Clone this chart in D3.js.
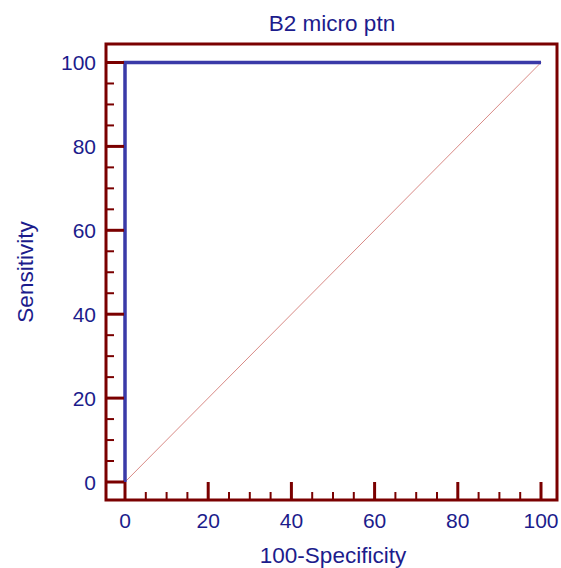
<!DOCTYPE html>
<html><head><meta charset="utf-8">
<script src="https://cdn.jsdelivr.net/npm/d3@7"></script>
<style>body{margin:0;background:#fff}svg{display:block}text{font-family:"Liberation Sans",Arial,sans-serif}</style>
</head><body>
<script>
const rocX = [0, 0, 100];
const rocY = [0, 100, 100];
const diagX = [0, 100];
const diagY = [0, 100];
const xTicks = [0, 20, 40, 60, 80, 100];
const yTicks = [0, 20, 40, 60, 80, 100];
const minorTicks = d3.range(0, 101, 5);
const title = "B2 micro ptn";
const xLabel = "100-Specificity";
const yLabel = "Sensitivity";

const W = 561, H = 568;
const frame = {l: 106, t: 44, r: 557, b: 500};
const x = d3.scaleLinear().domain([0, 100]).range([125, 541]);
const y = d3.scaleLinear().domain([0, 100]).range([482, 62.5]);
const axisCol = "#7a0000", textCol = "#1c1c8c";

const svg = d3.select("body").append("svg").attr("width", W).attr("height", H);

// diagonal
svg.append("path").datum(diagX.map((d, i) => [d, diagY[i]]))
  .attr("d", d3.line().x(d => x(d[0])).y(d => y(d[1])))
  .attr("fill", "none").attr("stroke", "#d88a86").attr("stroke-width", 1);

// ROC
svg.append("path").datum(rocX.map((d, i) => [d, rocY[i]]))
  .attr("d", d3.line().x(d => x(d[0])).y(d => y(d[1])))
  .attr("fill", "none").attr("stroke", "#3a3aa8").attr("stroke-width", 3.5)
  .attr("stroke-linejoin", "miter");

// frame
svg.append("rect").attr("x", frame.l).attr("y", frame.t)
  .attr("width", frame.r - frame.l).attr("height", frame.b - frame.t)
  .attr("fill", "none").attr("stroke", axisCol).attr("stroke-width", 3);

// ticks
const isMajor = v => v % 20 === 0;
svg.append("g").selectAll("line").data(minorTicks).join("line")
  .attr("x1", frame.l).attr("x2", d => frame.l + (isMajor(d) ? 18 : 8))
  .attr("y1", d => y(d)).attr("y2", d => y(d))
  .attr("stroke", axisCol).attr("stroke-width", d => isMajor(d) ? 3 : 2);
svg.append("g").selectAll("line").data(minorTicks).join("line")
  .attr("y1", frame.b).attr("y2", d => frame.b - (isMajor(d) ? 18 : 8))
  .attr("x1", d => x(d)).attr("x2", d => x(d))
  .attr("stroke", axisCol).attr("stroke-width", d => isMajor(d) ? 3 : 2);

// tick labels
svg.append("g").selectAll("text").data(yTicks).join("text")
  .attr("x", 96).attr("y", d => y(d)).attr("dy", "0.36em")
  .attr("text-anchor", "end").attr("font-size", 21).attr("fill", textCol).text(d => d);
svg.append("g").selectAll("text").data(xTicks).join("text")
  .attr("x", d => x(d)).attr("y", 528)
  .attr("text-anchor", "middle").attr("font-size", 21).attr("fill", textCol).text(d => d);

// titles
svg.append("text").attr("x", 332).attr("y", 31).attr("text-anchor", "middle")
  .attr("font-size", 22.5).attr("fill", textCol).text(title);
svg.append("text").attr("x", 333).attr("y", 563).attr("text-anchor", "middle")
  .attr("font-size", 22.5).attr("fill", textCol).text(xLabel);
svg.append("text").attr("transform", "translate(33,272) rotate(-90)").attr("text-anchor", "middle")
  .attr("font-size", 22.5).attr("fill", textCol).text(yLabel);
</script>
</body></html>
